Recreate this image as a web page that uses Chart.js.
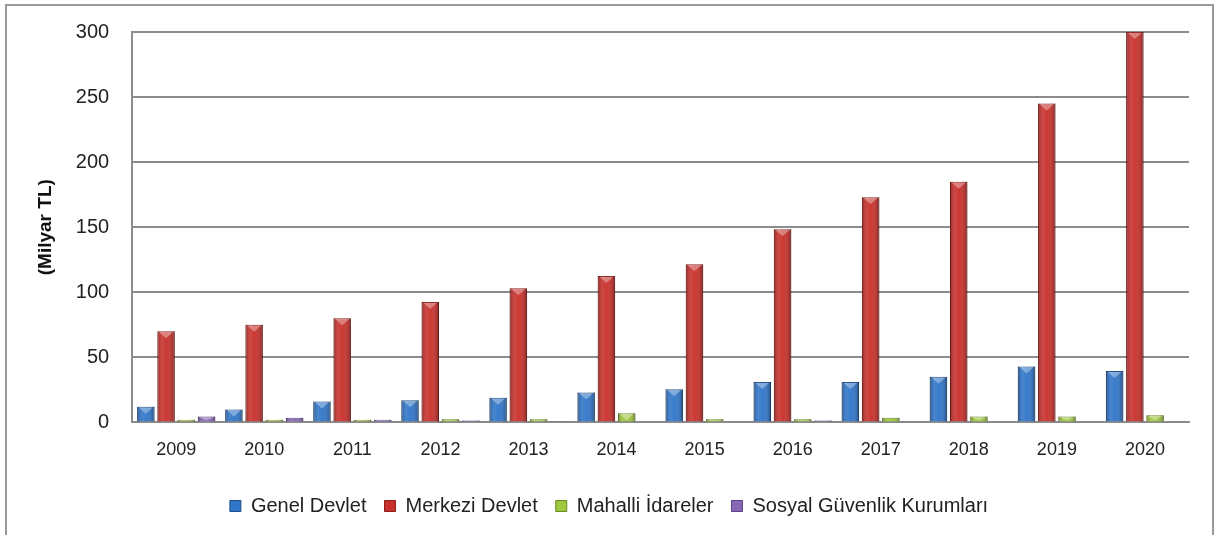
<!DOCTYPE html>
<html>
<head>
<meta charset="utf-8">
<script src="https://cdn.jsdelivr.net/npm/chart.js@4/dist/chart.umd.min.js"></script>
<style>
  html, body { margin: 0; padding: 0; background: #fff; overflow: hidden; }
  #frame {
    position: absolute; left: 5px; top: 4px;
    width: 1205px; height: 545px;
    border: 2px solid #9a9a9a;
  }
  #wrap { position: absolute; left: 0; top: -9px; width: 1205px; height: 549px; }
</style>
</head>
<body>
<div id="frame"><div id="wrap"><canvas id="harcama-chart"></canvas></div></div>
<script>
// ============ DATA ===========================//

const years = ["2009", "2010", "2011", "2012", "2013", "2014", "2015", "2016", "2017", "2018", "2019", "2020"];
const genelDevlet = [12, 10, 16, 17, 19, 23, 25.5, 31, 31, 35, 43, 39.5];
const merkeziDevlet = [70, 75, 80, 92.5, 103, 112.5, 121.5, 148.5, 173, 185, 245, 300];
const mahalliIdareler = [2, 2, 2, 2.5, 2.5, 7, 2.5, 2.5, 3.5, 4.5, 4.5, 5.5];
const sosyalGuvenlik = [4.5, 3.5, 2, 1.5, 1, 0.8, 0.8, 1.5, 0.8, 0.8, 0.8, 0.8];
const yTicks = [0, 50, 100, 150, 200, 250, 300];

const fontFamily = "'Liberation Sans', Arial, sans-serif";

// ============ BAR SHADING (cylinder look) ===========================//

const shadePlugin = {
  id: "shade",
  afterDatasetsDraw(chart) {
    const ctx = chart.ctx;
    chart.data.datasets.forEach((ds, i) => {
      chart.getDatasetMeta(i).data.forEach((bar) => {
        const p = bar.getProps(["x", "y", "base", "width"], true);
        const left = p.x - p.width / 2;
        const h = p.base - p.y;
        if (h <= 0) return;
        const g = ctx.createLinearGradient(left, 0, left + p.width, 0);
        g.addColorStop(0, "rgba(0,0,0,0.28)");
        g.addColorStop(0.3, "rgba(255,255,255,0.10)");
        g.addColorStop(0.55, "rgba(255,255,255,0.04)");
        g.addColorStop(1, "rgba(0,0,0,0.32)");
        ctx.save();
        ctx.fillStyle = g;
        ctx.fillRect(left, p.y, p.width, h);
        if (h > 4) {
          ctx.fillStyle = "rgba(255,255,255,0.35)";
          ctx.beginPath();
          ctx.moveTo(left + 2, p.y + 1);
          ctx.lineTo(left + p.width - 2, p.y + 1);
          ctx.lineTo(p.x, p.y + Math.min(7, h - 1));
          ctx.closePath();
          ctx.fill();
        }
        ctx.restore();
      });
    });
  },
};

// ============ CHART ===========================//

const canvas = document.getElementById("harcama-chart");

const makeSet = (label, data, color, edge) => ({
  label: label,
  data: data,
  backgroundColor: color,
  borderColor: edge,
  borderWidth: 1,
  barPercentage: 0.86,
  categoryPercentage: 0.92,
});

let harcamaChart = new Chart(canvas, {
  type: "bar",
  data: {
    labels: years,
    datasets: [
      makeSet("Genel Devlet", genelDevlet, "#3176c8", "#1d4c86"),
      makeSet("Merkezi Devlet", merkeziDevlet, "#c8312c", "#8e1e1b"),
      makeSet("Mahalli İdareler", mahalliIdareler, "#a0c83e", "#6a8a22"),
      makeSet("Sosyal Güvenlik Kurumları", sosyalGuvenlik, "#8767b8", "#5b4282"),
    ],
  },
  options: {
    responsive: true,
    maintainAspectRatio: false,
    animation: false,
    layout: { padding: { left: 22, right: 23, top: 8, bottom: 20 } },
    plugins: {
      legend: {
        position: "bottom",
        labels: {
          boxWidth: 11,
          boxHeight: 11,
          padding: 18,
          color: "#222",
          font: { family: fontFamily, size: 20 },
        },
      },
      tooltip: { enabled: false },
    },
    scales: {
      x: {
        grid: { display: false, drawTicks: false },
        border: { color: "#8c8c8c", width: 2 },
        ticks: { color: "#222", padding: 17, font: { family: fontFamily, size: 18 } },
      },
      y: {
        min: 0,
        max: 300,
        afterBuildTicks: (axis) => { axis.ticks = yTicks.map((v) => ({ value: v })); },
        grid: { color: "#8c8c8c", lineWidth: 2, drawTicks: false },
        border: { color: "#8c8c8c", width: 2 },
        ticks: { color: "#222", padding: 23, font: { family: fontFamily, size: 20 } },
        title: {
          display: true,
          text: "(Milyar TL)",
          color: "#111",
          padding: { top: 5, bottom: -4 },
          font: { family: fontFamily, size: 19, weight: "bold" },
        },
      },
    },
  },
  plugins: [shadePlugin],
});
</script>
</body>
</html>
